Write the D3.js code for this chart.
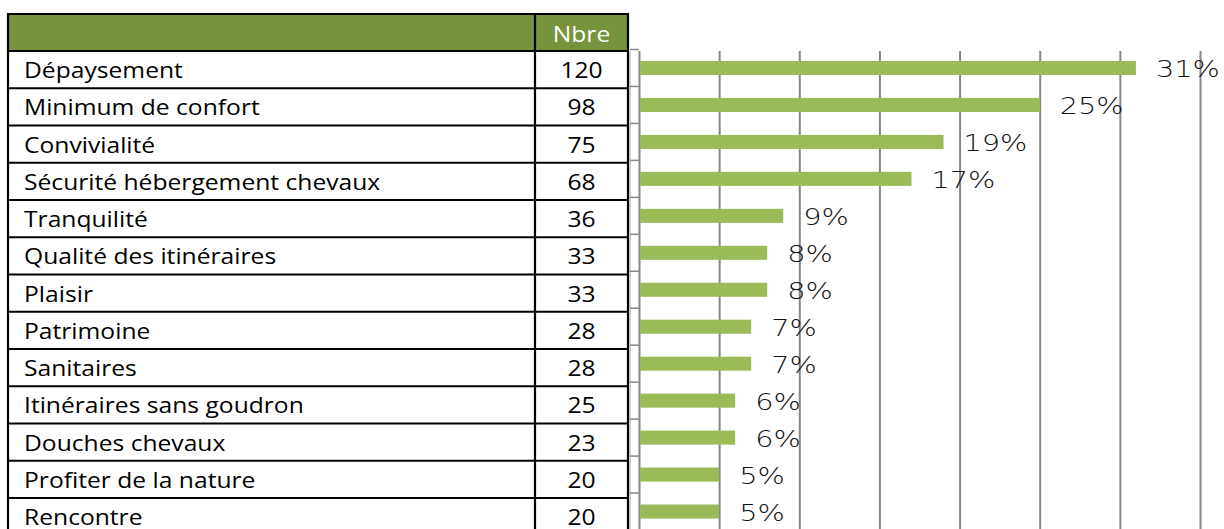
<!DOCTYPE html>
<html>
<head>
<meta charset="utf-8">
<script src="https://cdn.jsdelivr.net/npm/d3@7"></script>
<style>
  html, body { margin: 0; padding: 0; background: #fff; }
  svg { display: block; }
</style>
</head>
<body>
<svg id="chart" width="1224" height="529"></svg>
<script>
// Motivations: count table with matching share bars
const categories = [
  "Dépaysement", "Minimum de confort", "Convivialité",
  "Sécurité hébergement chevaux", "Tranquilité", "Qualité des itinéraires",
  "Plaisir", "Patrimoine", "Sanitaires", "Itinéraires sans goudron",
  "Douches chevaux", "Profiter de la nature", "Rencontre"
];
const counts = [120, 98, 75, 68, 36, 33, 33, 28, 28, 25, 23, 20, 20];
const percents = [31, 25, 19, 17, 9, 8, 8, 7, 7, 6, 6, 5, 5];
const gridTicks = [0, 5, 10, 15, 20, 25, 30, 35];
const headerLabel = "Nbre";

const svg = d3.select("#chart");

// ---- table ----
const tbl = { left: 8, colSplit: 535, right: 628, headTop: 14, headBottom: 51, rowH: 37.25 };
const rowScale = d3.scaleBand()
  .domain(categories)
  .range([tbl.headBottom, tbl.headBottom + categories.length * tbl.rowH]);

const tableFont = "'Open Sans', Lato, sans-serif";
const tableSx = 1.12;

function stretchedText(g, x, y, txt, opts) {
  return g.append("text")
    .attr("transform", `translate(${x},${y}) scale(${opts.sx},1)`)
    .attr("text-anchor", opts.anchor || "start")
    .attr("font-family", opts.family)
    .attr("font-size", opts.size)
    .attr("font-weight", opts.weight || 400)
    .attr("fill", opts.fill || "#000")
    .text(txt);
}

const table = svg.append("g");

// header band
table.append("rect")
  .attr("x", tbl.left).attr("y", tbl.headTop)
  .attr("width", tbl.right - tbl.left).attr("height", tbl.headBottom - tbl.headTop)
  .attr("fill", "#77933C");

stretchedText(table, (tbl.colSplit + tbl.right) / 2, 42, headerLabel,
  { sx: tableSx, anchor: "middle", family: tableFont, size: 22, fill: "#fff" });

// rows
categories.forEach((c, i) => {
  const y0 = rowScale(c);
  stretchedText(table, 24, y0 + 27, c, { sx: tableSx, family: tableFont, size: 22 });
  stretchedText(table, (tbl.colSplit + tbl.right) / 2, y0 + 27, counts[i],
    { sx: tableSx, anchor: "middle", family: tableFont, size: 22 });
});

// grid lines of the table
const tableBottom = tbl.headBottom + categories.length * tbl.rowH;
const hLines = [tbl.headTop, tbl.headBottom].concat(categories.map(c => rowScale(c) + rowScale.bandwidth()));
table.selectAll("line.h").data(hLines).join("line")
  .attr("x1", tbl.left).attr("x2", tbl.right)
  .attr("y1", d => d).attr("y2", d => d)
  .attr("stroke", "#000").attr("stroke-width", 2.2);
[tbl.left, tbl.colSplit, tbl.right].forEach(x => {
  table.append("line")
    .attr("x1", x).attr("x2", x)
    .attr("y1", tbl.headTop - 1.1).attr("y2", tableBottom)
    .attr("stroke", "#000").attr("stroke-width", 2.2);
});

// ---- bar chart ----
const x = d3.scaleLinear().domain([0, 35]).range([639, 1200]);
const y = d3.scaleBand()
  .domain(categories)
  .range([49.5, 530])
  .paddingInner(0.62)
  .paddingOuter(0.31);

const plotTop = 51, plotBottom = 529;
const gridColor = "#878787";

// chart frame edge next to the table
svg.append("line")
  .attr("x1", 630).attr("x2", 630).attr("y1", plotTop).attr("y2", plotBottom)
  .attr("stroke", "#a6a6a6").attr("stroke-width", 1);

// vertical grid lines
const grid = svg.append("g")
  .attr("transform", `translate(0,${plotTop})`)
  .call(d3.axisBottom(x).tickValues(gridTicks).tickSize(plotBottom - plotTop).tickFormat(""));
grid.select(".domain").remove();
grid.selectAll(".tick line").attr("stroke", gridColor).attr("stroke-width", 2);

// category ticks at band boundaries
const step = y.step();
const bounds = d3.range(categories.length + 1).map(k => y.range()[0] + k * step);
svg.append("g").selectAll("line").data(bounds).join("line")
  .attr("x1", 630).attr("x2", x(0))
  .attr("y1", d => d).attr("y2", d => d)
  .attr("stroke", gridColor).attr("stroke-width", 1.5);

// bars
svg.append("g").selectAll("rect").data(percents).join("rect")
  .attr("x", x(0) + 1)
  .attr("y", (d, i) => y(categories[i]))
  .attr("width", d => x(d) - x(0) - 1)
  .attr("height", y.bandwidth())
  .attr("fill", "#9BBB59");

// value labels
const lbl = svg.append("g");
percents.forEach((p, i) => {
  const cy = y(categories[i]) + y.bandwidth() / 2;
  stretchedText(lbl, x(p) + 20, cy + 9, p + "%",
    { sx: 1.25, family: "'DejaVu Sans', Verdana, sans-serif", size: 23, weight: 200, fill: "#111" });
});
</script>
</body>
</html>
